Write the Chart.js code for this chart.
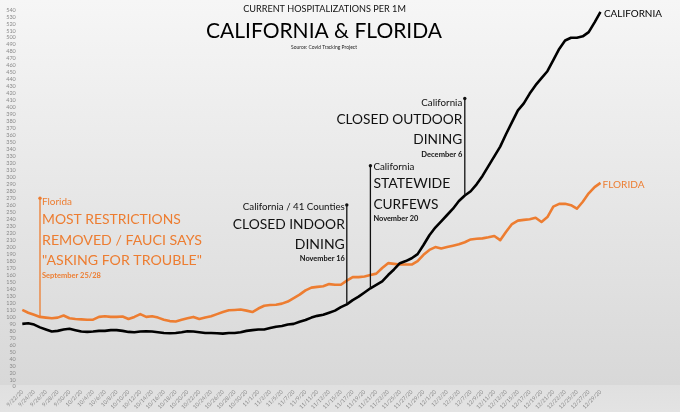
<!DOCTYPE html>
<html lang="en">
<head>
<meta charset="UTF-8">
<title>California &amp; Florida - current hospitalizations per 1M</title>
<script src="https://cdn.jsdelivr.net/npm/chart.js@4.4.1/dist/chart.umd.min.js"></script>
<style>
  html, body { margin: 0; padding: 0; }
  body {
    width: 680px; height: 412px; overflow: hidden;
    background: linear-gradient(to bottom, #f6f6f6 0%, #d8d8d8 93.5%, #e0e0e0 93.5%, #e3e3e3 100%);
  }
  #chart { display: block; }
</style>
</head>
<body>
<canvas id="chart" width="680" height="412"></canvas>
<script>
// one point per day, 9/22/20 .. 12/29/20
const days = [
  '9/22/20','9/23/20','9/24/20','9/25/20','9/26/20','9/27/20','9/28/20','9/29/20','9/30/20',
  '10/1/20','10/2/20','10/3/20','10/4/20','10/5/20','10/6/20','10/7/20','10/8/20','10/9/20','10/10/20',
  '10/11/20','10/12/20','10/13/20','10/14/20','10/15/20','10/16/20','10/17/20','10/18/20','10/19/20','10/20/20',
  '10/21/20','10/22/20','10/23/20','10/24/20','10/25/20','10/26/20','10/27/20','10/28/20','10/29/20','10/30/20','10/31/20',
  '11/1/20','11/2/20','11/3/20','11/4/20','11/5/20','11/6/20','11/7/20','11/8/20','11/9/20','11/10/20',
  '11/11/20','11/12/20','11/13/20','11/14/20','11/15/20','11/16/20','11/17/20','11/18/20','11/19/20','11/20/20',
  '11/21/20','11/22/20','11/23/20','11/24/20','11/25/20','11/26/20','11/27/20','11/28/20','11/29/20','11/30/20',
  '12/1/20','12/2/20','12/3/20','12/4/20','12/5/20','12/6/20','12/7/20','12/8/20','12/9/20','12/10/20',
  '12/11/20','12/12/20','12/13/20','12/14/20','12/15/20','12/16/20','12/17/20','12/18/20','12/19/20','12/20/20',
  '12/21/20','12/22/20','12/23/20','12/24/20','12/25/20','12/26/20','12/27/20','12/28/20','12/29/20'
];

const california = [
  90, 91, 89, 85, 82, 79, 80, 82, 83,
  81, 79, 78.5, 79, 80, 80, 81, 81, 80, 78.5,
  78, 79, 79.5, 79, 78, 77, 76.5, 77, 78, 79.5,
  79, 78, 77, 77, 76.5, 76, 77, 77, 78, 80, 81,
  82, 82, 84, 86, 87, 89, 90, 93, 95.5, 99,
  101.5, 103, 106, 109, 114, 118, 124, 129, 135, 141,
  146, 151, 160, 168, 177, 180, 184, 190, 203, 217,
  228, 237, 246, 255, 266, 274, 280, 290, 302, 316,
  330, 344, 362, 379, 396, 406, 420, 432, 442, 452,
  468, 484, 496, 500, 500, 502, 508, 522, 537
];

const florida = [
  110, 106, 103, 100, 99, 98, 99, 102, 98,
  97, 96.5, 96, 96, 100, 101, 100, 100, 100.5, 97,
  100, 104, 100, 101, 99, 96, 94, 93.5, 96, 98,
  100, 97, 99, 101, 104, 107, 109.5, 110, 110.5, 109, 107,
  112, 116, 117, 117.5, 119, 122, 127, 132, 138, 142,
  143, 144, 147, 146, 146, 152, 157, 157, 158, 160,
  162, 170, 177, 176, 175, 175, 175, 180, 189, 196,
  200, 198, 200, 202, 204, 207, 211, 212, 212.5, 214,
  216, 210, 222, 233, 238, 239, 240, 242, 236, 243,
  258, 262, 262, 260, 255, 265, 277, 286, 292
];

const yTicks = { min: 0, max: 540, step: 10 };

const ORANGE = '#ed7d31';
const FONT = 'Lato, "Open Sans", sans-serif';

// event markers: day index, series the stem starts from, top of the stem (value)
// text rows: [text, width px, offset below stem top px, weight]
const notes = [
  { idx: 3, series: florida, top: 270, color: ORANGE, stem: ORANGE, side: 'right', dx: 2,
    rows: [
      ['Florida', 30, 4, 'normal'],
      ['MOST RESTRICTIONS', 139, 21, 'normal'],
      ['REMOVED / FAUCI SAYS', 160, 42, 'normal'],
      ['"ASKING FOR TROUBLE"', 160, 62, 'normal'],
      ['September 25/28', 59, 77, 'bold']
    ] },
  { idx: 55, series: california, top: 260.5, color: '#111', stem: '#111', side: 'left', dx: -2,
    rows: [
      ['California / 41 Counties', 102, 2, 'normal'],
      ['CLOSED INDOOR', 112, 19.5, 'normal'],
      ['DINING', 50, 39.5, 'normal'],
      ['November 16', 45, 53.5, 'bold']
    ] },
  { idx: 59, series: california, top: 316.5, color: '#111', stem: '#111', side: 'right', dx: 3,
    rows: [
      ['California', 41, 1, 'normal'],
      ['STATEWIDE', 77, 17.5, 'normal'],
      ['CURFEWS', 65, 38.5, 'normal'],
      ['November 20', 45, 53, 'bold']
    ] },
  { idx: 75, series: california, top: 413, color: '#111', stem: '#111', side: 'left', dx: -2.5,
    rows: [
      ['California', 41, 4, 'normal'],
      ['CLOSED OUTDOOR', 126, 21, 'normal'],
      ['DINING', 49, 41, 'normal'],
      ['December 6', 41, 56, 'bold']
    ] }
];

// set the font so the text comes out at the given width
function fitFont(ctx, text, width, weight) {
  ctx.font = weight + ' 100px ' + FONT;
  const size = 100 * width / ctx.measureText(text).width;
  ctx.font = weight + ' ' + size.toFixed(2) + 'px ' + FONT;
}

function drawText(ctx, text, x, y, width, weight, color, align) {
  fitFont(ctx, text, width, weight);
  ctx.fillStyle = color;
  ctx.textAlign = align;
  ctx.textBaseline = 'middle';
  ctx.fillText(text, x, y);
}

const notesPlugin = {
  id: 'notes',
  afterDatasetsDraw(chart) {
    const ctx = chart.ctx;
    const xs = chart.scales.x, ys = chart.scales.y;
    ctx.save();

    // titles
    drawText(ctx, 'CURRENT HOSPITALIZATIONS PER 1M', 324.5, 9, 163, 'normal', '#111', 'center');
    drawText(ctx, 'CALIFORNIA & FLORIDA', 324, 31, 236, 'normal', '#000', 'center');
    drawText(ctx, 'Source: Covid Tracking Project', 324, 47.5, 66, 'normal', '#222', 'center');

    notes.forEach(n => {
      const x = xs.getPixelForValue(n.idx);
      const yTop = ys.getPixelForValue(n.top);
      const yBot = ys.getPixelForValue(n.series[n.idx]);
      ctx.strokeStyle = n.stem;
      ctx.lineWidth = 1.3;
      ctx.beginPath();
      ctx.moveTo(x, yBot);
      ctx.lineTo(x, yTop);
      ctx.stroke();
      ctx.fillStyle = n.stem;
      ctx.beginPath();
      ctx.arc(x, yTop, 1.7, 0, Math.PI * 2);
      ctx.fill();
      n.rows.forEach(r => {
        drawText(ctx, r[0], x + n.dx, yTop + r[2], r[1], r[3], n.color,
                 n.side === 'left' ? 'right' : 'left');
      });
    });

    // series names at the end of each line
    const last = days.length - 1;
    const xe = xs.getPixelForValue(last);
    drawText(ctx, 'CALIFORNIA', xe + 3.5, ys.getPixelForValue(california[last]) + 2, 58, 'normal', '#000', 'left');
    drawText(ctx, 'FLORIDA', xe + 2, ys.getPixelForValue(florida[last]) + 2, 42, 'normal', ORANGE, 'left');

    ctx.restore();
  }
};

new Chart(document.getElementById('chart'), {
  type: 'line',
  data: {
    labels: days,
    datasets: [
      { label: 'California', data: california, borderColor: '#000', borderWidth: 2.6,
        pointRadius: 0, tension: 0, borderJoinStyle: 'round' },
      { label: 'Florida', data: florida, borderColor: ORANGE, borderWidth: 2.6,
        pointRadius: 0, tension: 0, borderJoinStyle: 'round' }
    ]
  },
  options: {
    responsive: false,
    animation: false,
    layout: { padding: { top: 5.5, right: 79.5, left: 0, bottom: 0 } },
    plugins: { legend: { display: false }, tooltip: { enabled: false } },
    scales: {
      x: {
        grid: { display: false, drawTicks: false },
        border: { display: false },
        ticks: {
          autoSkip: false, maxRotation: 45, minRotation: 45, padding: 2,
          color: '#8a8a8a', font: { size: 5.5, family: FONT },
          callback: function (v, i) { return i % 2 === 0 ? this.getLabelForValue(v) : ''; }
        },
        afterFit: s => { s.height = 25.3; }
      },
      y: {
        min: yTicks.min, max: yTicks.max,
        grid: { display: false, drawTicks: false },
        border: { display: false },
        ticks: { stepSize: yTicks.step, autoSkip: false, padding: 6.5,
                 color: '#8a8a8a', font: { size: 5.5, family: FONT } },
        afterFit: s => { s.width = 22.3; }
      }
    }
  },
  plugins: [notesPlugin]
});
</script>
</body>
</html>
